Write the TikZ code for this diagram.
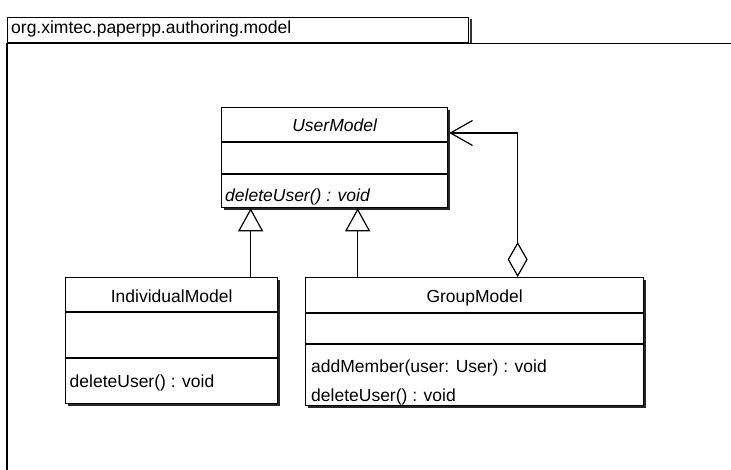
\documentclass[tikz,border=0pt]{standalone}
\usepackage{fontspec}
\setmainfont{Liberation Sans}
\usetikzlibrary{arrows.meta,shadows}
\begin{document}
\begin{tikzpicture}[x=1pt,y=-1pt,
  umlbox/.style={draw=black, line width=1.3pt, fill=white, rectangle, inner sep=0pt, anchor=north west,
    general shadow={fill=black!85, shadow xshift=2pt, shadow yshift=-2pt}},
  sep/.style={draw=black, line width=1.2pt},
  lbl/.style={font=\fontsize{17.5}{20}\selectfont, inner sep=0pt},
  pkg/.style={draw=black, line width=1.2pt},
  inh/.style={draw=black, line width=1.2pt, -{Triangle[open, length=23pt, width=25pt, line width=1.2pt]}},
  agg/.style={draw=black, line width=1.2pt, {Diamond[open, length=35pt, width=20pt, line width=1.2pt]}-{Straight Barb[length=22pt, width=25pt, line width=1.2pt]}}
]
\useasboundingbox (0,0) rectangle (731,470);
\fill[white] (0,0) rectangle (731,470);

% package
\node[draw=black, line width=1.2pt, rectangle, inner sep=0pt, anchor=north west, minimum width=461pt, minimum height=25pt] (tab) at (7,17) {};
\draw[line width=1.8pt, black!80] ([xshift=1.8pt,yshift=-2pt]tab.north east) -- ([xshift=1.8pt]tab.south east);
\node[lbl, anchor=base west] (pkgname) at (11,34) {org.ximtec.paperpp.authoring.model};
\draw[pkg] (tab.south west) -- ++(0,430);
\draw[pkg] (tab.south west) -- ++(726,0);

% UserModel
\node[umlbox, minimum width=226pt, minimum height=100pt] (um) at (221,107) {};
\draw[sep] ([yshift=-35pt]um.north west) -- ([yshift=-35pt]um.north east);
\draw[sep] ([yshift=-67pt]um.north west) -- ([yshift=-67pt]um.north east);
\node[lbl, anchor=base] (umname) at ([yshift=-25pt]um.north) {\itshape UserModel};
\node[lbl, anchor=base west] (umop) at ([xshift=4pt,yshift=-95pt]um.north west) {\itshape deleteUser() : void};

% IndividualModel
\node[umlbox, minimum width=212pt, minimum height=126pt] (im) at (65,277) {};
\draw[sep] ([yshift=-35pt]im.north west) -- ([yshift=-35pt]im.north east);
\draw[sep] ([yshift=-81pt]im.north west) -- ([yshift=-81pt]im.north east);
\node[lbl, anchor=base] (imname) at ([yshift=-26pt]im.north) {IndividualModel};
\node[lbl, anchor=base west] (imop) at ([xshift=4.5pt,yshift=-110pt]im.north west) {deleteUser() : void};

% GroupModel
\node[umlbox, minimum width=338pt, minimum height=128pt] (gm) at (305,277) {};
\draw[sep] ([yshift=-36pt]gm.north west) -- ([yshift=-36pt]gm.north east);
\draw[sep] ([yshift=-67pt]gm.north west) -- ([yshift=-67pt]gm.north east);
\node[lbl, anchor=base] (gmname) at ([yshift=-26pt]gm.north) {GroupModel};
\node[lbl, anchor=base west] (gmop1) at ([xshift=6pt,yshift=-95pt]gm.north west) {addMember(user: User) : void};
\node[lbl, anchor=base west] (gmop2) at ([xshift=6pt,yshift=-124pt]gm.north west) {deleteUser() : void};

% generalisations
\coordinate (i1) at ([xshift=79pt]im.north);
\draw[inh] (i1) -- (i1 |- um.south);
\coordinate (g1) at ([xshift=-117pt]gm.north);
\draw[inh] (g1) -- (g1 |- um.south);

% aggregation
\coordinate (a1) at ([xshift=43pt]gm.north);
\coordinate (a2) at ([xshift=1pt,yshift=-26pt]um.north east);
\draw[agg] (a1) |- (a2);
\end{tikzpicture}
\end{document}
